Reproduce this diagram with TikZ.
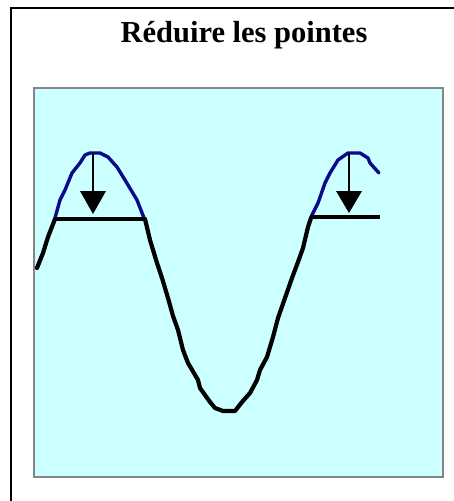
\documentclass[tikz,border=0pt]{standalone}
\usepackage{fontspec}
\setmainfont{Liberation Serif}
\definecolor{panelfill}{HTML}{CCFFFF}
\definecolor{panelrule}{HTML}{858585}
\definecolor{peakblue}{HTML}{0A0A8C}
\begin{document}
\begin{tikzpicture}[x=1pt,y=-1pt,
  wave/.style={line width=4.2pt,line join=round,line cap=round,black},
  peak/.style={line width=3.4pt,line join=round,line cap=round,peakblue},
  cut/.style={line width=4.2pt,black},
  shaft/.style={line width=2pt,black},
  head/.style={fill=black}]
\useasboundingbox (0,0) rectangle (454,501);
\fill[white] (0,0) rectangle (454,501);
% outer frame (only top and left visible)
\draw[line width=2.5pt] (454,8) -- (11,8) -- (11,501);
% title
\node[anchor=base,font=\bfseries\fontsize{30.5}{33}\selectfont,inner sep=0] (title) at (244,42) {Réduire les pointes};
% panel
\draw[panelrule,fill=panelfill,line width=2pt] (34,88) rectangle (443,477);
% blue original peaks
\draw[peak] (55,218) -- (60,200) -- (65,190) -- (72,173) -- (80,163) -- (85,155) -- (90,153) -- (100,153) -- (108,157) -- (117,167) -- (125,180) -- (137,200) -- (144,218);
\draw[peak] (311,217) -- (318,203) -- (325,183) -- (330,173) -- (338,160) -- (348,153) -- (360,153) -- (368,158) -- (370,163) -- (379,173);
% black reduced wave
\draw[wave] (37,268) -- (43,253) -- (48,237) -- (55,219);
\draw[wave] (145,219) -- (150,240) -- (157,263) -- (162,278) -- (168,298) -- (173,316) -- (178,330) -- (183,350) -- (188,363) -- (198,380) -- (200,388) -- (210,402) -- (215,408) -- (223,411) -- (235,411) -- (242,402) -- (250,393) -- (257,380) -- (260,370) -- (267,357) -- (273,337) -- (278,318) -- (285,298) -- (292,278) -- (298,262) -- (303,248) -- (308,227) -- (311,218);
% clipping levels
\draw[cut] (54,219) -- (146,219);
\draw[cut] (310,217) -- (380,217);
% arrows
\draw[shaft] (93,153) -- (93,192);
\fill[head] (80,191) -- (106,191) -- (93,214) -- cycle;
\draw[shaft] (349,153) -- (349,192);
\fill[head] (336,191) -- (362,191) -- (349,213) -- cycle;
\end{tikzpicture}
\end{document}
